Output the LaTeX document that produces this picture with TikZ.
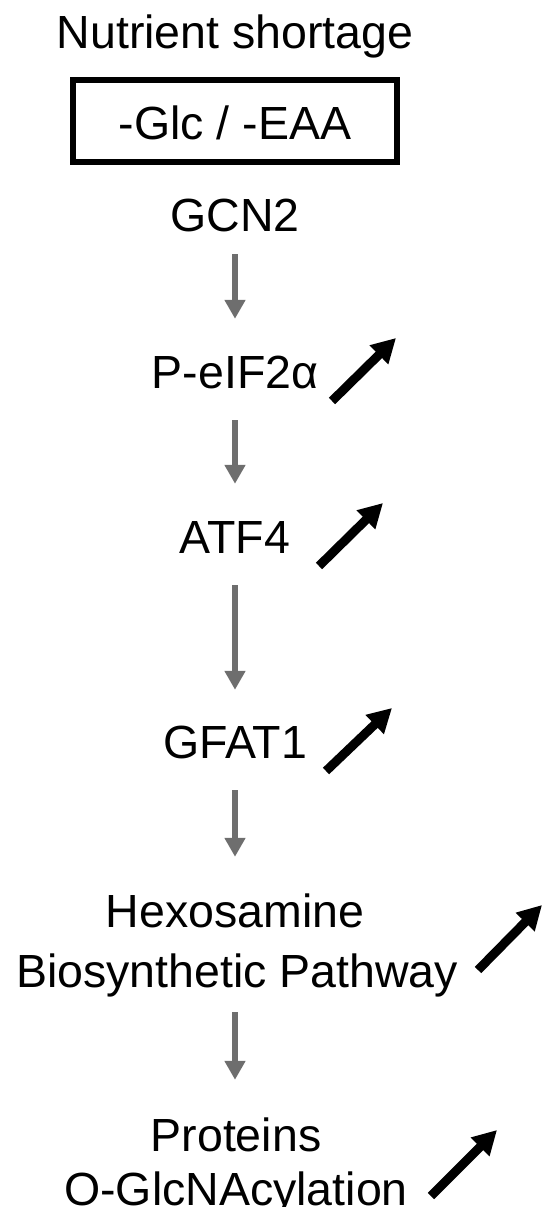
\documentclass[tikz,border=0pt]{standalone}
\usepackage{fontspec}
\setmainfont{Liberation Sans}
\usetikzlibrary{arrows.meta}
\definecolor{arrowgray}{RGB}{110,110,110}
\begin{document}
\begin{tikzpicture}[x=1pt,y=-1pt,
  lbl/.style={font=\fontsize{46.5}{56}\selectfont, inner sep=0pt, text height=34pt, text depth=10pt, anchor=base},
  flow/.style={draw=arrowgray, line width=6pt, -{Triangle[width=20pt,length=19pt]}, arrowgray},
  uparrow/.style={draw=black, line width=9pt, -{Triangle[width=25pt,length=24pt]}}]
\useasboundingbox (0,0) rectangle (542,1207);

\node[lbl] (ns) at (235,48.4) {Nutrient shortage};
\node[draw, line width=5.5pt, minimum width=324pt, minimum height=81.6pt, inner sep=0pt,
      font=\fontsize{46.5}{56}\selectfont, text height=36pt, text depth=0pt] (box) at (235,121) {-Glc / -EAA};
\node[lbl] (gcn2) at (235,231) {GCN2};
\node[lbl] (peif) at (235,388) {P-eIF2α};
\node[lbl] (atf4) at (235,553) {ATF4};
\node[lbl] (gfat1) at (235,758) {GFAT1};
\node[lbl] (hex) at (235,927) {Hexosamine};
\node[lbl] (bsp) at (237,987) {Biosynthetic Pathway};
\node[lbl] (prot) at (236,1151) {Proteins};
\node[lbl] (oglc) at (236,1205) {O-GlcNAcylation};

\draw[flow, shorten <=13pt, shorten >=35pt] (gcn2.south) -- (gcn2.south |- peif.north);
\draw[flow, shorten <=22pt, shorten >=35pt] (peif.south) -- (atf4.north);
\draw[flow, shorten <=22pt, shorten >=34pt] (atf4.south) -- (gfat1.north);
\draw[flow, shorten <=22pt, shorten >=36pt] (gfat1.south) -- (hex.north);
\draw[flow, shorten <=15pt, shorten >=37pt] (hex.south |- bsp.south) -- (hex.south |- prot.north);

\coordinate (u1s) at (332,401); \coordinate (u1e) at (396,338);
\coordinate (u2s) at (319,566); \coordinate (u2e) at (383,503);
\coordinate (u3s) at (326,771); \coordinate (u3e) at (392,708);
\coordinate (u4s) at (478,970); \coordinate (u4e) at (542,905);
\coordinate (u5s) at (431,1196); \coordinate (u5e) at (497,1130);
\draw[uparrow] (u1s) -- (u1e);
\draw[uparrow] (u2s) -- (u2e);
\draw[uparrow] (u3s) -- (u3e);
\draw[uparrow] (u4s) -- (u4e);
\draw[uparrow] (u5s) -- (u5e);
\end{tikzpicture}
\end{document}
